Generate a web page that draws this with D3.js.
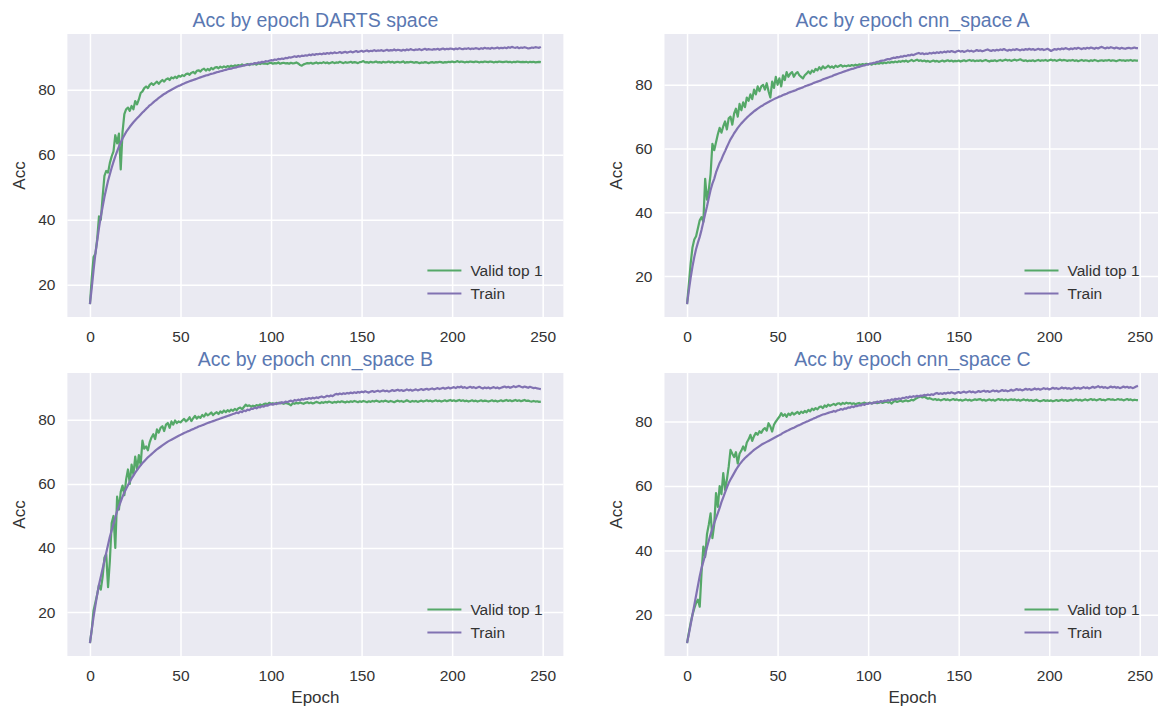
<!DOCTYPE html>
<html>
<head>
<meta charset="utf-8">
<script src="https://cdn.jsdelivr.net/npm/d3@7"></script>
<style>
  body { margin: 0; background: #fff; }
  svg { display: block; font-family: "Liberation Sans", Arial, sans-serif; }
  .tick text { fill: #333; font-size: 15.5px; }
  .tick line { stroke: #fff; stroke-width: 1.5; }
  .domain { display: none; }
</style>
</head>
<body>
<div id="chart"></div>
<script>
// Tick values and labels
const xTicks = [0, 50, 100, 150, 200, 250];
const yTicks = [20, 40, 60, 80];
const seriesNames = ["Valid top 1", "Train"];

// DARTS space
const dartsValid = [
  14.0, 22.0, 28.5, 29.5, 34.0, 41.0, 40.0, 47.0, 53.5, 55.0,
  54.5, 57.5, 59.5, 61.0, 66.0, 63.5, 66.5, 55.5, 67.0, 72.5,
  74.0, 74.5, 73.5, 75.0, 74.0, 76.5, 75.5, 77.0, 79.0, 79.5,
  80.5, 81.0, 80.5, 81.5, 82.0, 81.5, 82.0, 82.5, 81.8, 82.5,
  83.0, 82.5, 83.2, 83.5, 83.0, 83.8, 83.5, 84.0, 83.6, 84.3,
  84.0, 84.5, 84.2, 84.8, 85.0, 84.6, 85.2, 85.5, 85.0, 85.8,
  86.0, 85.6, 86.2, 86.5, 85.9, 86.4, 86.0, 86.7, 86.3, 86.8,
  87.0, 86.6, 87.1, 86.8, 87.2, 86.9, 87.3, 87.0, 87.4, 87.2,
  87.5, 87.3, 87.6, 87.4, 87.8, 87.5, 87.7, 87.9, 87.6, 88.0,
  87.8, 88.0, 87.7, 88.1, 87.9, 88.2, 88.0, 88.1, 87.9, 88.2,
  88.3, 88.0, 88.2, 88.1, 88.4, 88.0, 88.2, 88.3, 88.1, 88.2,
  88.0, 88.3, 88.1, 88.2, 88.4, 88.1, 87.6, 87.4, 87.8, 88.0,
  88.2, 88.1, 88.3, 88.0, 88.2, 88.4, 88.1, 88.3, 88.2, 88.5,
  88.2, 88.4, 88.1, 88.3, 88.5, 88.2, 88.4, 88.3, 88.6, 88.4,
  88.2, 88.5, 88.3, 88.4, 88.6, 88.3, 88.5, 88.4, 88.2, 88.5,
  88.6, 88.8, 88.4, 88.5, 88.3, 88.6, 88.4, 88.5, 88.7, 88.4,
  88.5, 88.3, 88.6, 88.4, 88.5, 88.7, 88.4, 88.6, 88.3, 88.5,
  88.6, 88.4, 88.5, 88.7, 88.3, 88.5, 88.4, 88.6, 88.5, 88.3,
  88.5, 88.4, 88.2, 88.4, 88.3, 88.5, 88.4, 88.2, 88.4, 88.5,
  88.3, 88.5, 88.4, 88.6, 88.5, 88.3, 88.5, 88.4, 88.6, 88.5,
  88.7, 88.5, 88.6, 88.8, 88.5, 88.7, 88.6, 88.4, 88.6, 88.5,
  88.7, 88.6, 88.5, 88.7, 88.6, 88.4, 88.6, 88.5, 88.7, 88.6,
  88.5, 88.7, 88.6, 88.4, 88.6, 88.5, 88.7, 88.6, 88.5, 88.6,
  88.7, 88.5, 88.6, 88.4, 88.6, 88.5, 88.7, 88.6, 88.5, 88.6,
  88.5, 88.6, 88.4, 88.6, 88.5, 88.6, 88.4, 88.5, 88.6, 88.5
];
const dartsTrain = [
  14.0, 19.0, 24.5, 29.5, 33.5, 37.5, 41.0, 44.0, 47.0, 49.5,
  52.0, 54.0, 56.0, 57.8, 59.5, 61.0, 62.5, 63.8, 65.0, 66.0,
  67.0, 67.8, 68.6, 69.3, 70.0, 70.6, 71.2, 71.8, 72.4, 73.0,
  73.5, 74.1, 74.6, 75.2, 75.6, 76.1, 76.6, 77.0, 77.5, 77.9,
  78.3, 78.7, 79.0, 79.4, 79.7, 80.0, 80.3, 80.6, 80.9, 81.2,
  81.4, 81.7, 81.9, 82.2, 82.4, 82.6, 82.8, 83.0, 83.2, 83.4,
  83.6, 83.8, 84.0, 84.2, 84.4, 84.5, 84.7, 84.9, 85.0, 85.2,
  85.4, 85.5, 85.7, 85.8, 86.0, 86.1, 86.3, 86.4, 86.5, 86.7,
  86.8, 86.9, 87.1, 87.2, 87.3, 87.5, 87.6, 87.7, 87.8, 87.9,
  88.0, 88.2, 88.1, 88.4, 88.3, 88.6, 88.5, 88.8, 88.7, 88.9,
  89.1, 89.0, 89.3, 89.2, 89.5, 89.4, 89.6, 89.5, 89.8, 89.7,
  90.0, 89.9, 90.1, 90.3, 90.1, 90.4, 90.2, 90.5, 90.4, 90.6,
  90.5, 90.8, 90.6, 90.9, 90.7, 91.0, 90.9, 91.1, 90.9, 91.2,
  91.0, 91.3, 91.1, 91.4, 91.2, 91.5, 91.3, 91.4, 91.6, 91.3,
  91.5, 91.7, 91.4, 91.6, 91.8, 91.5, 91.7, 91.9, 91.6, 91.8,
  92.0, 91.7, 91.9, 92.1, 91.8, 92.0, 91.9, 92.2, 91.9, 92.1,
  92.0, 92.2, 91.9, 92.1, 92.3, 92.0, 92.2, 92.1, 92.4, 92.1,
  92.3, 92.2, 92.0, 92.3, 92.1, 92.4, 92.2, 92.5, 92.3, 92.2,
  92.4, 92.3, 92.5, 92.2, 92.4, 92.6, 92.3, 92.5, 92.4, 92.3,
  92.5, 92.4, 92.6, 92.3, 92.5, 92.7, 92.4, 92.6, 92.5, 92.7,
  92.6, 92.4, 92.7, 92.5, 92.8, 92.6, 92.5, 92.7, 92.6, 92.8,
  92.5, 92.7, 92.6, 92.8, 92.7, 92.5, 92.8, 92.6, 92.9, 92.7,
  92.8, 92.6, 92.9, 92.7, 92.8, 93.0, 92.7, 92.9, 92.8, 93.0,
  92.8, 93.1, 92.9, 93.2, 93.0, 92.9, 93.1, 92.8, 93.0, 92.9,
  93.1, 92.9, 92.7, 92.8, 93.0, 92.9, 93.1, 93.0, 92.9, 93.2
];

// cnn_space A
const spaceAValid = [
  11.2, 17.5, 24.0, 29.0, 31.5, 32.5, 35.0, 37.5, 38.5, 37.0,
  50.5, 44.0, 47.0, 52.0, 61.5, 59.5, 62.0, 64.5, 66.5, 65.0,
  67.0, 68.5, 66.0, 69.5, 70.0, 67.5, 71.0, 72.5, 70.0, 74.0,
  72.0, 74.5, 73.0, 76.0, 75.0, 77.0, 75.5, 78.5, 77.0, 79.5,
  78.0, 79.5, 80.0, 78.5, 80.5, 78.0, 76.0, 81.0, 79.0, 82.5,
  80.0, 82.0, 79.5, 83.0, 81.5, 84.0, 82.5, 83.5, 84.0, 82.5,
  83.5, 84.0, 83.0, 82.5, 82.0, 83.0, 83.5, 84.2, 83.5, 84.5,
  84.0, 85.0, 84.5, 85.5, 84.8, 85.8, 85.2, 85.5, 86.0, 85.4,
  85.8, 85.3, 86.0, 85.6, 85.9, 86.2, 85.7, 86.0, 85.8, 86.1,
  85.9, 86.2, 86.0, 86.3, 86.1, 86.4, 86.2, 86.5, 86.3, 86.6,
  86.4, 86.6, 86.3, 86.7, 86.5, 86.8, 86.6, 86.9, 86.7, 87.0,
  86.8, 87.1, 86.9, 87.2, 87.0, 87.3, 87.1, 87.4, 87.2, 87.5,
  87.3, 87.6, 87.2, 87.5, 87.8, 87.4, 87.6, 87.9, 87.5, 87.7,
  87.4, 87.6, 87.3, 87.5, 87.2, 87.4, 87.6, 87.3, 87.5, 87.2,
  87.4, 87.6, 87.3, 87.5, 87.7, 87.4, 87.6, 87.3, 87.5, 87.4,
  87.6, 87.3, 87.5, 87.7, 87.4, 87.6, 87.8, 87.5, 87.7, 87.4,
  87.6, 87.5, 87.7, 87.4, 87.6, 87.8, 87.5, 87.3, 87.6, 87.5,
  87.7, 87.4, 87.6, 87.8, 87.5, 87.7, 87.9, 87.6, 87.8, 87.5,
  87.7, 87.9, 87.6, 87.8, 88.0, 87.7, 87.5, 87.7, 87.4, 87.6,
  87.5, 87.7, 87.4, 87.6, 87.8, 87.5, 87.7, 87.6, 87.8, 87.5,
  87.7, 87.9, 87.6, 87.8, 87.5, 87.7, 87.9, 87.6, 87.8, 87.7,
  87.5, 87.7, 87.6, 87.8, 87.5, 87.7, 87.4, 87.6, 87.8, 87.5,
  87.7, 87.6, 87.4, 87.7, 87.5, 87.8, 87.6, 87.4, 87.6, 87.7,
  87.5, 87.7, 87.6, 87.8, 87.5, 87.7, 87.6, 87.4, 87.6, 87.8,
  87.6, 87.7, 87.5, 87.7, 87.6, 87.8, 87.5, 87.7, 87.6, 87.6
];
const spaceATrain = [
  11.2, 15.5, 19.5, 23.0, 26.0, 28.5, 30.5, 32.3, 34.5, 37.0,
  39.5, 41.8, 44.5, 47.0, 49.0, 50.5, 52.5, 54.0, 55.5, 56.6,
  58.0, 59.2, 60.5, 61.7, 62.9, 63.8, 64.8, 65.6, 66.5, 67.2,
  67.9, 68.5, 69.1, 69.7, 70.2, 70.7, 71.2, 71.7, 72.1, 72.5,
  72.9, 73.3, 73.6, 74.0, 74.3, 74.6, 74.9, 75.2, 75.5, 75.8,
  76.0, 76.3, 76.5, 76.8, 77.0, 77.2, 77.5, 77.7, 77.9, 78.1,
  78.3, 78.6, 78.8, 79.0, 79.2, 79.5, 79.7, 79.9, 80.1, 80.3,
  80.6, 80.8, 81.0, 81.2, 81.4, 81.7, 81.9, 82.1, 82.3, 82.5,
  82.7, 83.0, 83.2, 83.4, 83.6, 83.8, 84.0, 84.2, 84.4, 84.6,
  84.8, 85.0, 85.1, 85.3, 85.5, 85.6, 85.8, 86.0, 86.1, 86.3,
  86.4, 86.6, 86.7, 86.9, 87.0, 87.2, 87.3, 87.5, 87.6, 87.7,
  87.9, 88.1, 88.0, 88.3, 88.5, 88.4, 88.7, 88.6, 88.9, 88.8,
  89.1, 89.0, 89.3, 89.2, 89.5, 89.3, 89.6, 89.8, 90.0, 89.7,
  89.9, 89.6, 89.8, 89.7, 90.0, 89.8, 90.1, 89.9, 90.2, 90.0,
  90.3, 90.1, 90.4, 90.2, 90.5, 90.3, 90.6, 90.4, 90.2, 90.5,
  90.7, 90.4, 90.6, 90.3, 90.5, 90.8, 90.5, 90.7, 90.4, 90.6,
  90.9, 90.6, 90.8, 90.5, 90.7, 90.9, 91.1, 90.8, 90.6, 90.9,
  90.7, 91.0, 90.8, 91.1, 90.9, 91.2, 90.9, 90.7, 91.0, 90.8,
  91.1, 90.9, 91.2, 91.0, 90.8, 91.1, 90.9, 91.2, 91.0, 91.3,
  91.0, 91.2, 90.9, 91.1, 91.3, 91.0, 91.2, 90.9, 91.1, 91.3,
  91.0, 90.6, 90.9, 91.2, 91.0, 91.3, 91.1, 91.4, 91.2, 91.5,
  91.3, 91.1, 91.4, 91.2, 91.5, 91.3, 91.6, 91.4, 91.2, 91.5,
  91.3, 91.6, 91.4, 91.7, 91.5, 91.3, 91.6, 91.4, 91.7, 91.9,
  91.6, 91.4, 91.7, 91.5, 91.8, 91.6, 91.4, 91.7, 91.5, 91.3,
  91.6, 91.4, 91.3, 91.5, 91.6, 91.4, 91.5, 91.7, 91.5, 91.5
];

// cnn_space B
const spaceBValid = [
  10.3, 14.5, 20.5, 23.0, 25.5, 28.5, 27.0, 31.0, 37.0, 38.0,
  27.8, 36.0, 47.8, 50.0, 40.0, 56.0, 52.0, 57.5, 59.5, 56.5,
  61.5, 64.5, 60.0, 66.0, 63.0, 68.5, 64.5, 69.0, 66.0, 73.5,
  71.0, 71.7, 70.5, 73.0, 74.5, 75.5, 74.0, 77.0, 76.0, 77.5,
  78.0, 76.5, 78.5, 79.0, 77.5, 79.5, 78.5, 79.8, 79.0, 79.5,
  79.2, 79.8, 80.3, 79.5, 80.0, 80.8, 79.6, 80.5, 81.2, 80.4,
  81.0, 80.6, 81.5, 81.0, 82.0, 81.4, 81.8, 82.3, 81.5, 82.0,
  82.4, 81.8, 82.6, 82.2, 82.9, 82.4, 83.0, 82.6, 83.2, 82.8,
  83.4, 83.0, 83.6, 83.8, 83.3, 84.0, 84.7, 84.3, 84.5, 84.1,
  84.4, 84.2, 84.6, 84.4, 84.8, 84.5, 84.9, 85.1, 84.8, 85.3,
  85.0, 85.2, 84.9, 85.3, 85.1, 85.4, 85.2, 85.0, 85.3, 85.1,
  84.9, 84.5, 85.2, 85.0, 85.3, 85.1, 85.4, 85.2, 85.0, 85.3,
  85.5, 85.2, 85.4, 85.1, 85.3, 85.6, 85.4, 85.2, 85.5, 85.3,
  85.6, 85.4, 85.7, 85.5, 85.3, 85.6, 85.4, 85.7, 85.5, 85.8,
  85.6, 85.4, 85.7, 85.5, 85.8, 85.6, 85.9, 85.7, 85.5, 85.8,
  85.6, 85.9, 85.7, 85.5, 85.8, 85.6, 85.9, 85.7, 86.0, 85.8,
  85.6, 85.9, 85.7, 86.0, 85.8, 85.6, 85.9, 85.7, 85.5, 85.8,
  86.0, 85.7, 85.9, 85.6, 85.8, 86.1, 85.8, 85.6, 85.9, 85.7,
  85.9, 85.6, 85.8, 86.0, 85.7, 85.9, 86.1, 85.8, 86.0, 85.7,
  85.9, 86.1, 85.8, 86.0, 85.7, 85.9, 86.1, 85.8, 86.0, 86.2,
  85.9, 86.1, 85.8, 86.0, 86.2, 85.9, 86.1, 85.8, 86.0, 85.7,
  85.9, 86.1, 85.8, 86.0, 85.7, 85.9, 86.1, 85.8, 86.0, 85.9,
  85.7, 85.9, 86.1, 85.8, 86.0, 85.7, 85.9, 86.1, 85.8, 86.0,
  86.2, 85.9, 86.1, 85.8, 86.0, 86.2, 85.9, 86.1, 85.8, 86.0,
  86.2, 85.9, 86.0, 85.8, 85.7, 85.9, 85.7, 85.8, 85.6, 85.7
];
const spaceBTrain = [
  10.3, 14.5, 18.5, 22.0, 25.5, 28.5, 31.0, 33.5, 36.0, 38.5,
  41.0, 43.5, 45.5, 47.5, 49.5, 51.5, 53.0, 54.5, 56.0, 57.3,
  58.5, 59.6, 60.7, 61.7, 62.6, 63.5, 64.3, 65.1, 65.8, 66.5,
  67.1, 67.7, 68.3, 68.8, 69.3, 69.8, 70.3, 70.8, 71.2, 71.6,
  72.0, 72.4, 72.8, 73.2, 73.5, 73.8, 74.1, 74.4, 74.7, 75.0,
  75.3, 75.6, 75.9, 76.1, 76.4, 76.6, 76.9, 77.1, 77.4, 77.6,
  77.9, 78.1, 78.3, 78.5, 78.8, 79.0, 79.2, 79.4, 79.6, 79.8,
  80.0, 80.2, 80.4, 80.6, 80.8, 81.0, 81.2, 81.4, 81.6, 81.8,
  82.0, 82.3, 82.1, 82.6, 82.4, 82.9, 82.7, 83.2, 83.0, 83.5,
  83.4, 83.8, 83.6, 84.0, 83.9, 84.3, 84.1, 84.5, 84.4, 84.7,
  84.9, 84.7, 85.1, 84.9, 85.3, 85.1, 85.5, 85.3, 85.7, 85.5,
  85.8, 86.0, 85.7, 86.2, 86.0, 86.3, 86.1, 86.5, 86.3, 86.6,
  86.5, 86.8, 86.6, 86.9, 86.7, 87.0, 86.8, 87.1, 87.3, 87.0,
  87.2, 87.5, 87.3, 87.6, 87.4, 87.8, 88.1, 87.9, 88.2, 88.0,
  88.3, 88.1, 88.4, 88.2, 88.5, 88.3, 88.6, 88.4, 88.7, 88.5,
  88.8, 88.6, 88.9, 88.7, 88.5, 88.8, 89.0, 88.7, 88.9, 89.1,
  88.8, 89.0, 89.2, 88.9, 89.1, 88.8, 89.0, 89.3, 89.0, 89.2,
  89.4, 89.1, 89.3, 89.0, 89.2, 89.5, 89.2, 89.4, 89.1, 89.3,
  89.5, 89.2, 89.4, 89.6, 89.3, 89.5, 89.7, 89.4, 89.6, 89.8,
  89.5, 89.7, 89.9, 89.6, 89.8, 90.0, 89.7, 89.9, 90.1, 89.8,
  90.0, 90.2, 89.9, 90.3, 90.1, 90.4, 90.0, 90.2, 89.9, 90.1,
  90.3, 90.0, 90.2, 89.9, 90.1, 90.3, 90.0, 89.8, 90.1, 89.9,
  90.1, 89.8, 90.0, 90.2, 89.9, 90.1, 89.8, 90.0, 90.2, 90.4,
  90.1, 90.3, 90.0, 90.2, 90.5, 90.2, 90.4, 90.6, 90.3, 90.1,
  90.4, 90.2, 90.0, 90.3, 90.1, 89.9, 90.0, 89.8, 89.7, 89.6
];

// cnn_space C
const spaceCValid = [
  11.2, 14.5, 17.5, 20.0, 22.0, 23.7, 24.7, 22.5, 33.0, 41.2,
  38.0, 45.0, 48.0, 51.5, 43.8, 48.0, 57.8, 53.5, 60.0, 57.5,
  64.0, 58.8, 62.0, 66.0, 71.2, 70.0, 69.0, 70.5, 67.0, 70.0,
  71.0, 72.3, 71.0, 73.5, 74.5, 75.9, 74.0, 75.5, 76.5, 75.9,
  77.0, 76.5, 77.5, 78.0, 77.2, 79.5, 78.5, 76.9, 79.0, 80.0,
  80.8, 81.5, 82.6, 81.8, 82.3, 81.5, 82.5, 82.0, 82.8, 82.2,
  82.6, 83.0, 82.4, 83.1, 82.7, 83.3, 82.9, 83.6, 83.2, 84.0,
  83.6, 84.2, 83.8, 84.5, 84.7, 84.2, 85.0, 84.6, 85.3, 84.9,
  85.2, 85.5, 85.1, 85.6, 85.7, 85.3, 85.8, 85.5, 85.9, 85.6,
  85.8, 85.5, 85.7, 85.4, 85.6, 85.8, 85.5, 85.7, 85.9, 85.6,
  85.7, 85.9, 85.6, 85.8, 86.0, 85.7, 85.9, 86.1, 85.8, 86.0,
  86.2, 85.9, 86.1, 85.6, 86.2, 86.4, 86.1, 86.3, 86.5, 86.2,
  86.4, 86.6, 86.3, 86.5, 86.8, 86.6, 87.0, 87.3, 87.6, 87.8,
  87.5, 87.8, 87.4, 87.1, 87.3, 87.0, 86.8, 87.0, 86.7, 86.9,
  86.6, 86.8, 87.0, 86.7, 86.9, 86.6, 86.8, 87.0, 86.7, 86.9,
  86.6, 86.8, 86.5, 86.7, 86.9, 86.6, 86.8, 86.5, 86.7, 86.9,
  86.7, 86.9, 87.0, 86.6, 86.8, 86.5, 86.7, 86.9, 86.6, 86.8,
  86.5, 86.8, 87.0, 86.7, 86.9, 86.6, 86.9, 86.6, 86.8, 86.9,
  86.7, 86.9, 86.6, 86.8, 86.5, 86.7, 86.9, 86.6, 86.8, 86.5,
  86.7, 86.4, 86.6, 86.8, 86.5, 86.3, 86.5, 86.7, 86.4, 86.6,
  86.4, 86.6, 86.3, 86.5, 86.7, 86.4, 86.6, 86.8, 86.5, 86.7,
  86.4, 86.6, 86.8, 86.5, 86.7, 86.9, 86.6, 86.8, 86.5, 86.7,
  86.9, 86.6, 86.8, 87.0, 86.7, 86.9, 86.6, 86.8, 87.0, 86.7,
  86.8, 86.6, 86.9, 87.0, 86.8, 86.9, 86.7, 86.8, 87.0, 86.8,
  86.9, 86.6, 86.8, 87.0, 86.7, 86.9, 86.6, 86.8, 86.7, 86.7
];
const spaceCTrain = [
  11.2, 14.0, 17.0, 20.0, 23.0, 26.0, 29.0, 32.0, 34.5, 36.5,
  38.5, 41.0, 43.0, 45.0, 46.8, 48.5, 50.0, 51.6, 53.2, 55.0,
  56.5, 58.0, 59.5, 60.9, 62.0, 63.0, 64.0, 65.0, 65.9, 66.7,
  67.4, 68.1, 68.7, 69.2, 69.7, 70.2, 70.7, 71.2, 71.6, 72.0,
  72.4, 72.8, 73.1, 73.4, 73.7, 74.0, 74.3, 74.6, 74.9, 75.2,
  75.5, 75.8, 76.1, 76.5, 76.8, 77.1, 77.3, 77.6, 77.9, 78.1,
  78.4, 78.7, 78.9, 79.2, 79.5, 79.7, 80.0, 80.2, 80.5, 80.7,
  81.0, 81.2, 81.5, 81.7, 82.0, 82.2, 82.3, 82.5, 82.7, 82.9,
  83.0, 83.3, 83.1, 83.5, 83.6, 83.9, 83.7, 84.1, 84.0, 84.4,
  84.3, 84.7, 84.5, 84.9, 84.8, 85.1, 85.0, 85.4, 85.2, 85.6,
  85.5, 85.8, 85.6, 86.0, 85.8, 86.2, 86.0, 86.4, 86.2, 86.5,
  86.4, 86.7, 86.5, 86.9, 86.7, 87.1, 86.9, 87.2, 87.0, 87.4,
  87.3, 87.6, 87.4, 87.8, 87.6, 87.9, 87.7, 88.0, 87.8, 88.1,
  88.0, 88.3, 88.1, 88.4, 88.2, 88.5, 88.3, 88.7, 88.9, 88.6,
  88.8, 88.6, 88.9, 88.7, 89.0, 88.8, 89.1, 88.9, 88.7, 89.0,
  89.2, 88.9, 89.1, 89.3, 89.0, 89.2, 89.4, 89.1, 89.3, 89.0,
  89.2, 89.5, 89.2, 89.4, 89.6, 89.3, 89.5, 89.2, 89.4, 89.7,
  89.4, 89.6, 89.3, 89.5, 89.8, 89.5, 89.7, 89.4, 89.6, 89.9,
  89.6, 89.8, 90.1, 89.8, 90.0, 89.7, 89.9, 90.2, 89.9, 90.1,
  89.8, 90.0, 90.3, 90.0, 90.2, 89.9, 90.1, 90.4, 90.1, 90.3,
  90.0, 90.2, 90.5, 90.2, 90.4, 90.1, 90.3, 90.6, 90.3, 90.5,
  90.2, 90.4, 90.1, 90.3, 90.6, 90.3, 90.5, 90.2, 90.4, 90.7,
  90.4, 90.6, 90.3, 90.5, 90.8, 90.5, 90.7, 91.0, 90.6, 90.8,
  90.5, 90.7, 90.4, 90.6, 90.9, 90.6, 90.8, 90.5, 90.7, 90.4,
  90.6, 90.9, 90.6, 90.8, 90.5, 90.7, 90.4, 90.6, 90.9, 91.1
];

// Layout
const totalWidth = 1158, totalHeight = 713;
const plotWidth = 496, plotHeight = 283;
const colLeft = [67.4, 664.5];
const rowTop = [34, 373];
const colors = { valid: "#55A868", train: "#8172B2", title: "#5a78b2", text: "#333" };

const panels = [
    { title: "Acc by epoch DARTS space", valid: dartsValid, train: dartsTrain, col: 0, row: 0 },
    { title: "Acc by epoch cnn_space A", valid: spaceAValid, train: spaceATrain, col: 1, row: 0 },
    { title: "Acc by epoch cnn_space B", valid: spaceBValid, train: spaceBTrain, col: 0, row: 1 },
    { title: "Acc by epoch cnn_space C", valid: spaceCValid, train: spaceCTrain, col: 1, row: 1 }
];

const svg = d3.select("#chart").append("svg")
    .attr("width", totalWidth)
    .attr("height", totalHeight);

panels.forEach(p => drawPanel(p));

function drawPanel(p) {
    const left = colLeft[p.col], top = rowTop[p.row];
    const g = svg.append("g").attr("transform", `translate(${left},${top})`);

    g.append("rect")
        .attr("width", plotWidth)
        .attr("height", plotHeight)
        .attr("fill", "#EAEAF2");

    // matplotlib-like autoscale with 5% margins
    const x = d3.scaleLinear()
        .domain([0 - 0.05 * 249, 249 + 0.05 * 249])
        .range([0, plotWidth]);
    const ext = d3.extent(p.valid.concat(p.train));
    const pad = (ext[1] - ext[0]) * 0.05;
    const y = d3.scaleLinear()
        .domain([ext[0] - pad, ext[1] + pad])
        .range([plotHeight, 0]);

    g.append("g")
        .attr("transform", `translate(0,${plotHeight})`)
        .call(d3.axisBottom(x).tickValues(xTicks).tickSize(-plotHeight).tickPadding(14));

    g.append("g")
        .call(d3.axisLeft(y).tickValues(yTicks).tickSize(-plotWidth).tickPadding(12));

    const line = d3.line()
        .x((d, i) => x(i))
        .y(d => y(d));

    g.append("path")
        .datum(p.valid)
        .attr("d", line)
        .attr("fill", "none")
        .attr("stroke", colors.valid)
        .attr("stroke-width", 2.2)
        .attr("stroke-linejoin", "round");

    g.append("path")
        .datum(p.train)
        .attr("d", line)
        .attr("fill", "none")
        .attr("stroke", colors.train)
        .attr("stroke-width", 2.2)
        .attr("stroke-linejoin", "round");

    // Title
    g.append("text")
        .attr("x", plotWidth / 2)
        .attr("y", -7)
        .attr("text-anchor", "middle")
        .attr("font-size", "19.5px")
        .attr("fill", colors.title)
        .text(p.title);

    // Y label
    g.append("text")
        .attr("transform", `translate(-48,${plotHeight / 2}) rotate(-90)`)
        .attr("text-anchor", "middle")
        .attr("dy", "0.35em")
        .attr("font-size", "17px")
        .attr("fill", colors.text)
        .text("Acc");

    // X label on bottom row
    if (p.row === 1) {
        g.append("text")
            .attr("x", plotWidth / 2)
            .attr("y", plotHeight + 47)
            .attr("text-anchor", "middle")
            .attr("font-size", "17px")
            .attr("fill", colors.text)
            .text("Epoch");
    }

    // Legend, lower right
    const legend = g.append("g")
        .attr("transform", `translate(${plotWidth - 136},${plotHeight - 46.5})`);
    [colors.valid, colors.train].forEach((c, i) => {
        legend.append("line")
            .attr("x1", 0).attr("x2", 34)
            .attr("y1", i * 23).attr("y2", i * 23)
            .attr("stroke", c)
            .attr("stroke-width", 2.2);
        legend.append("text")
            .attr("x", 43)
            .attr("y", i * 23)
            .attr("dy", "0.35em")
            .attr("font-size", "15.5px")
            .attr("fill", colors.text)
            .text(seriesNames[i]);
    });
}
</script>
</body>
</html>
